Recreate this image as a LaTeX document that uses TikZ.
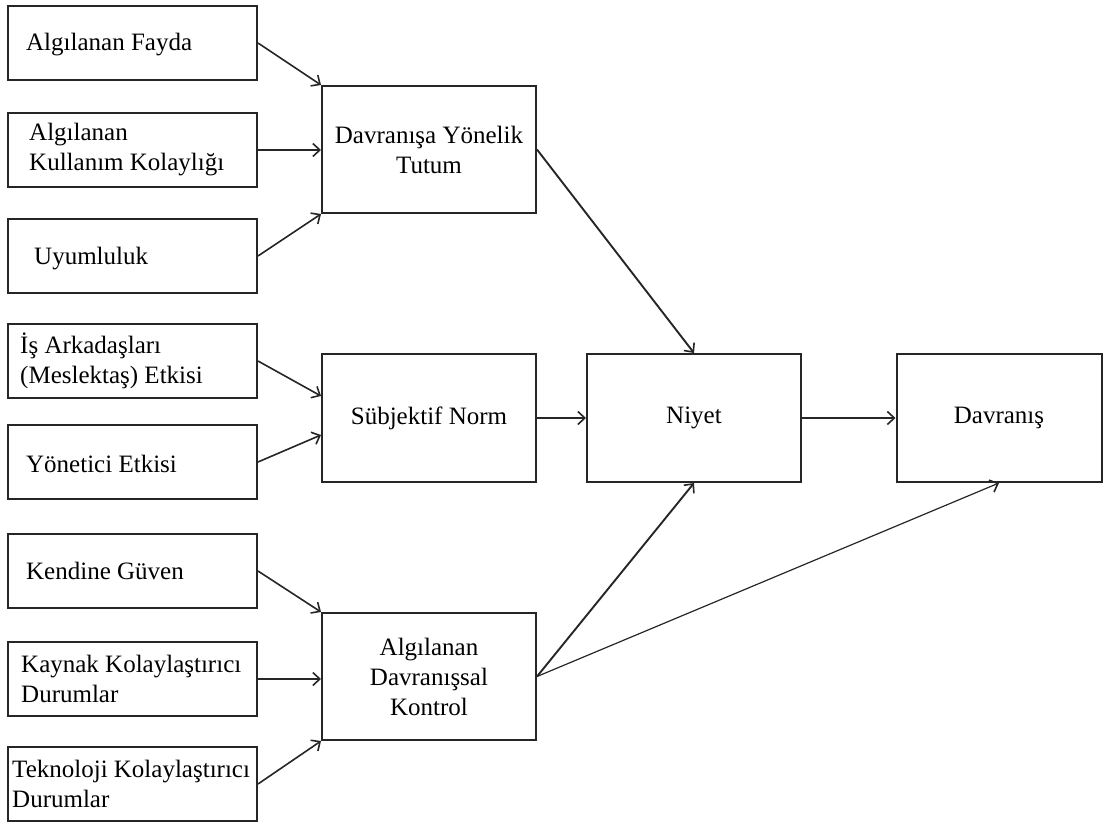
\documentclass[tikz,border=0pt]{standalone}
\usepackage{fontspec}
\setmainfont{Liberation Serif}
\usetikzlibrary{arrows.meta,calc}

\tikzset{
  box/.style={draw=black!85, line width=2pt, fill=white, inner sep=0pt},
  leftbox/.style={box, minimum width=249pt, minimum height=74pt},
  midbox/.style={box, minimum width=214pt, minimum height=127pt,
    align=center, font=\fontsize{25}{30}\selectfont},
  label text/.style={anchor=west, inner sep=0pt, align=left,
    font=\fontsize{25}{30}\selectfont},
  link/.style={line width=1.6pt, draw=black!85,
    -{Straight Barb[length=7pt,width=13pt,line width=1.6pt]}},
  thinlink/.style={link, line width=1.2pt}
}

\begin{document}
\begin{tikzpicture}[x=1pt,y=-1pt]
  \useasboundingbox (0,0) rectangle (1103,822);

  % input factors on the left
  \node[leftbox] (fayda)     at (132.5, 43)  {};
  \node[leftbox] (kolaylik)  at (132.5, 150) {};
  \node[leftbox] (uyum)      at (132.5, 256) {};
  \node[leftbox] (arkadas)   at (132.5, 361) {};
  \node[leftbox] (yonetici)  at (132.5, 462) {};
  \node[leftbox] (guven)     at (132.5, 571) {};
  \node[leftbox] (kaynak)    at (132.5, 679) {};
  \node[leftbox] (teknoloji) at (132.5, 784) {};

  \node[label text] (fayda-t)     at ([xshift=19pt,yshift=-2pt]fayda.west)     {Algılanan Fayda};
  \node[label text] (kolaylik-t)  at ([xshift=22pt]kolaylik.west)  {Algılanan\\Kullanım Kolaylığı};
  \node[label text] (uyum-t)      at ([xshift=27pt,yshift=-3pt]uyum.west)      {Uyumluluk};
  \node[label text] (arkadas-t)   at ([xshift=13pt]arkadas.west)   {İş Arkadaşları\\(Meslektaş) Etkisi};
  \node[label text] (yonetici-t)  at ([xshift=19pt,yshift=-2pt]yonetici.west)  {Yönetici Etkisi};
  \node[label text] (guven-t)     at ([xshift=19pt]guven.west)     {Kendine Güven};
  \node[label text] (kaynak-t)    at ([xshift=14pt]kaynak.west)    {Kaynak Kolaylaştırıcı\\Durumlar};
  \node[label text] (teknoloji-t) at ([xshift=5pt]teknoloji.west)  {Teknoloji Kolaylaştırıcı\\Durumlar};

  % intermediate constructs
  \node[midbox] (tutum)   at (429, 149.5) {Davranışa Yönelik\\Tutum};
  \node[midbox, minimum height=128pt] (norm) at (429, 418) {Sübjektif Norm};
  \node[midbox] (kontrol) at (429, 676.5) {Algılanan\\Davranışsal\\Kontrol};

  % intention and behaviour
  \node[midbox, minimum height=128pt] (niyet) at (694, 418) {Niyet};
  \node[midbox, minimum height=128pt, minimum width=205pt] (davranis) at (999, 418) {Davranış};

  % links into the attitude box
  \draw[link] (fayda.east) -- (tutum.north west);
  \draw[link] (kolaylik.east) -- (kolaylik.east -| tutum.west);
  \draw[link] (uyum.east) -- (tutum.south west);

  % links into the subjective norm box
  \draw[link] (arkadas.east) -- ($(norm.north west)+(0,43)$);
  \draw[link] (yonetici.east) -- ($(norm.north west)+(0,82)$);

  % links into the perceived control box
  \draw[link] (guven.east) -- (kontrol.north west);
  \draw[link] (kaynak.east) -- (kaynak.east -| kontrol.west);
  \draw[link] (teknoloji.east) -- (kontrol.south west);

  % main paths
  \draw[link, line width=1.9pt] (tutum.east) -- (niyet.north);
  \draw[link, line width=1.9pt] (norm.east) -- (niyet.west);
  \draw[link, line width=1.9pt] (niyet.east) -- (davranis.west);
  \draw[link, line width=1.9pt] (kontrol.east) -- (niyet.south);
  \draw[thinlink] (kontrol.east) -- (davranis.south);
\end{tikzpicture}
\end{document}
